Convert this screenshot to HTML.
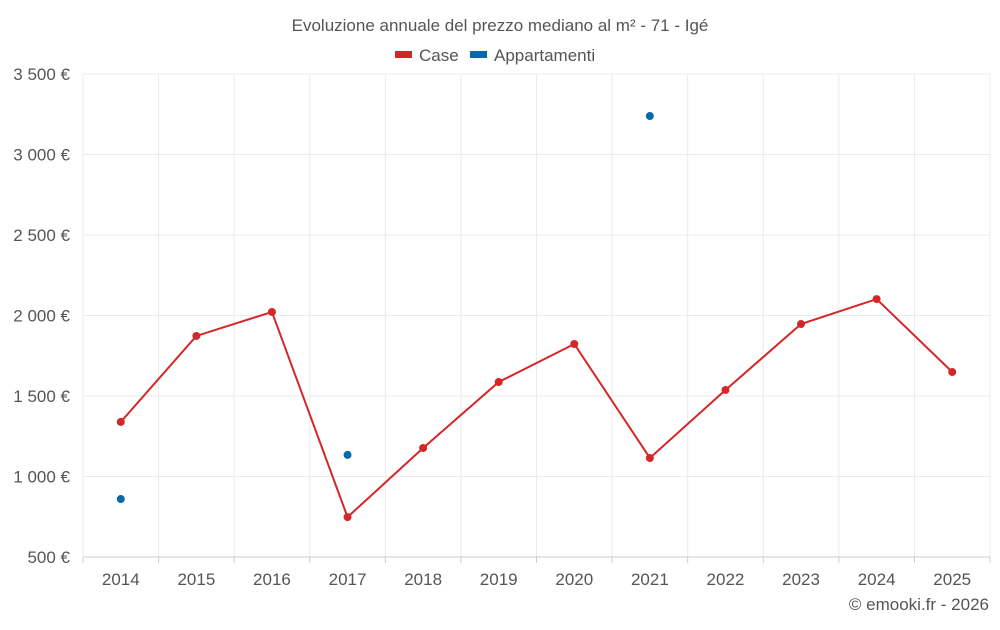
<!DOCTYPE html>
<html><head><meta charset="utf-8">
<style>
body{margin:0;background:#fff;font-family:"Liberation Sans",sans-serif;}
svg text{font-family:"Liberation Sans",sans-serif;fill:#555;}
</style></head>
<body>
<svg id="chart" width="1000" height="625" xmlns="http://www.w3.org/2000/svg">
<text x="500" y="31" text-anchor="middle" font-size="17">Evoluzione annuale del prezzo mediano al m² - 71 - Igé</text>
<g>
<g><rect x="395" y="51" width="17" height="7" fill="#d62728"/><text x="419" y="61" font-size="17">Case</text></g>
<g><rect x="470" y="51" width="17" height="7" fill="#0868ac"/><text x="494" y="61" font-size="17">Appartamenti</text></g>
</g>
<g id="grid"></g><g id="axes"></g><g id="series"></g>
<text x="989" y="610" text-anchor="end" font-size="17">© emooki.fr - 2026</text>
</svg>
<script>
const years=[2014,2015,2016,2017,2018,2019,2020,2021,2022,2023,2024,2025];
const caseValues=[1339,1873,2022,748,1177,1587,1823,1115,1537,1947,2102,1649];
const apptValues=[860,null,null,1134,null,null,null,3239,null,null,null,null];
const yTicks=[500,1000,1500,2000,2500,3000,3500];
const yTickLabels=["500 €","1 000 €","1 500 €","2 000 €","2 500 €","3 000 €","3 500 €"];
const NS="http://www.w3.org/2000/svg";
const L=83,R=990,T=74,B=557,yMin=500,yMax=3500;
const step=(R-L)/years.length;
function xs(i){return L+step*(i+0.5);}
function ys(v){return B-(v-yMin)/(yMax-yMin)*(B-T);}
function mk(tag,attrs,parent){const e=document.createElementNS(NS,tag);for(const k in attrs)e.setAttribute(k,attrs[k]);document.getElementById(parent).appendChild(e);return e;}
yTicks.forEach((t,i)=>{
 const g=mk('line',{x1:L,x2:R,y1:ys(t),y2:ys(t),stroke:'#ebebeb','stroke-width':1},'grid');
 
 
 const tx=mk('text',{x:70,y:ys(t)+6,'text-anchor':'end','font-size':17},'axes');
 tx.textContent=yTickLabels[i];
 
 
});
for(let i=0;i<=years.length;i++){
 const g=mk('line',{x1:L+step*i,x2:L+step*i,y1:T,y2:B,stroke:'#ebebeb','stroke-width':1},'grid');
 
 
 const tk=mk('line',{x1:L+step*i,x2:L+step*i,y1:B,y2:B+6,stroke:'#ccc','stroke-width':1},'axes');
 
 
}
const ax=mk('line',{x1:L,x2:R,y1:B,y2:B,stroke:'#ccc','stroke-width':1},'axes');


years.forEach((y,i)=>{
 const tx=mk('text',{x:xs(i),y:585,'text-anchor':'middle','font-size':17},'axes');
 tx.textContent=y;
 
 
});
const pts=caseValues.map((v,i)=>xs(i)+','+ys(v)).join(' ');
const pl=mk('polyline',{points:pts,fill:'none',stroke:'#d62728','stroke-width':2},'series');


caseValues.forEach((v,i)=>{
 const c=mk('circle',{cx:xs(i),cy:ys(v),r:4,fill:'#d62728'},'series');
 
 
});
apptValues.forEach((v,i)=>{
 if(v==null)return;
 const c=mk('circle',{cx:xs(i),cy:ys(v),r:4,fill:'#0868ac'},'series');
 
 
});
</script>
</body></html>
